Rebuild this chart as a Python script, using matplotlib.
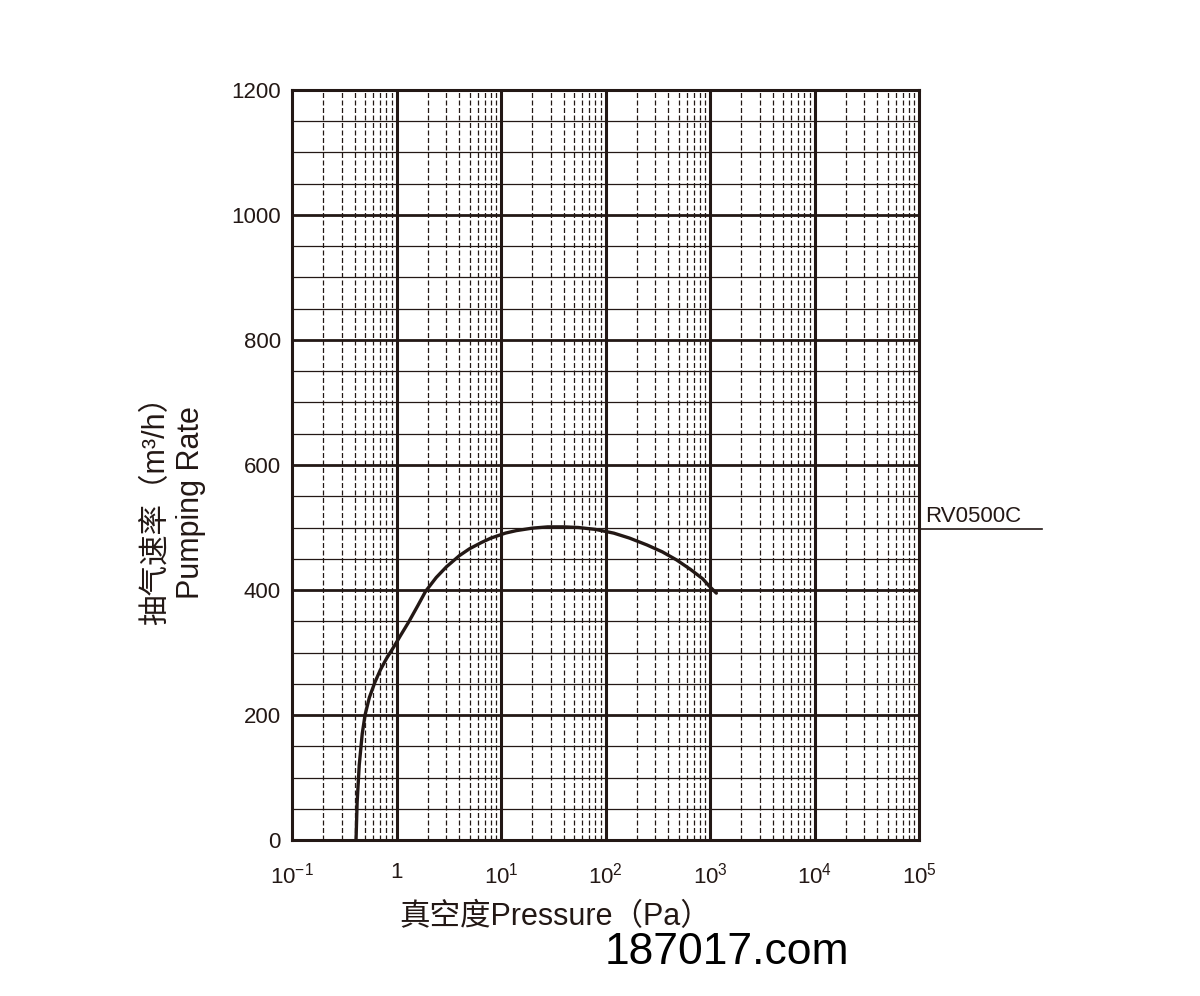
import numpy as np
import matplotlib.pyplot as plt

plt.rcParams['font.family'] = ['Liberation Sans', 'Noto Sans CJK SC', 'DejaVu Sans']
plt.rcParams['mathtext.fontset'] = 'custom'
plt.rcParams['mathtext.rm'] = 'Liberation Sans'

# curve RV0500C
pressure = [0.41, 0.42, 0.44, 0.47, 0.5, 0.55, 0.62, 0.7, 0.8, 0.95, 1.1, 1.3, 1.6, 1.9, 2.4, 3, 4, 5, 6.5, 8, 11, 14,
            20, 28, 40, 55, 80, 120, 170, 250, 350, 480, 650, 850, 1000, 1150]
rate = [0, 60, 120, 170, 200, 228, 252, 272, 290, 310, 328, 348, 375, 398, 420, 437, 455, 466, 476, 483, 491, 495,
        499, 501, 501, 500, 497, 491, 483, 472, 461, 448, 433, 418, 405, 395]

xtick_vals = [0.1, 1, 10, 100, 1000, 1e4, 1e5]
xtick_labels = ['$10^{-1}$', '1', '$10^{1}$', '$10^{2}$', '$10^{3}$', '$10^{4}$', '$10^{5}$']
ytick_vals = [0, 200, 400, 600, 800, 1000, 1200]

fig = plt.figure(figsize=(12, 9.96), dpi=100)
ax = fig.add_axes([292/1200, 1-840/996, (919-292)/1200, 750/996])
ax.set_xscale('log')
ax.set_xlim(0.1, 1e5)
ax.set_ylim(0, 1200)

# grid
for d in range(-1, 5):
    for k in range(2, 10):
        ax.axvline(k*10.0**d, color='#231815', lw=0.9, ls=(0, (4, 2)), zorder=1)
for d in range(0, 5):
    ax.axvline(10.0**d, color='#231815', lw=2.2, zorder=1)
for y in range(50, 1200, 50):
    if y % 200 == 0:
        ax.axhline(y, color='#231815', lw=2.0, zorder=1)
    else:
        ax.axhline(y, color='#231815', lw=0.9, zorder=1)

ax.plot(pressure, rate, color='#231815', lw=2.4, zorder=3, solid_capstyle='round', solid_joinstyle='round')

for s in ax.spines.values():
    s.set_linewidth(2.2)
    s.set_color('#231815')
ax.set_xticks(xtick_vals)
ax.set_xticklabels(xtick_labels)
ax.minorticks_off()
ax.set_xticks([], minor=True)
ax.set_yticks(ytick_vals)
ax.tick_params(axis='y', length=0, labelsize=16, colors='#231815', pad=8)
ax.tick_params(axis='x', length=0, labelsize=16, colors='#231815', pad=16)

ax.set_ylabel('抽气速率（m³/h）\nPumping Rate', fontsize=22, color='#231815', labelpad=18, y=0.45)
ax.set_xlabel('真空度Pressure（Pa）', fontsize=22, color='#231815', labelpad=10, x=0.42)

# model label
fig.text(925/1200, 1-517/996, 'RV0500C', fontsize=16, color='#231815', va='center')
fig.add_artist(plt.Line2D([919/1200, 1042/1200], [1-529/996, 1-529/996], color='#231815', lw=1.2))

fig.text(605/1200, 1-952/996, '187017.com', fontsize=32, color='black', va='center')

fig.savefig('out.png', dpi=100)
